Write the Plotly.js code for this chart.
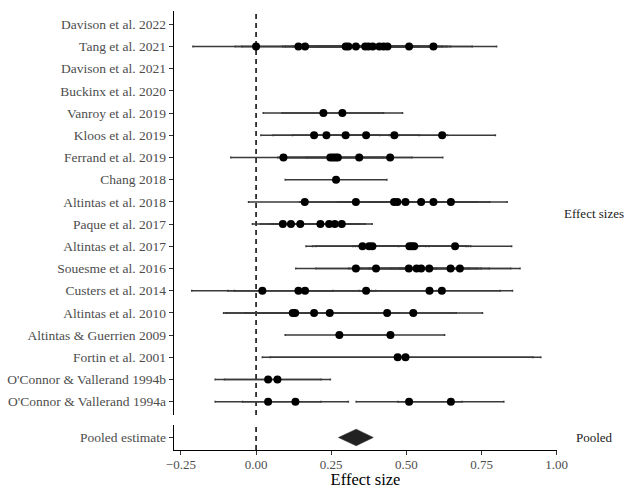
<!DOCTYPE html>
<html>
<head>
<meta charset="utf-8">
<script src="https://cdn.plot.ly/plotly-3.0.1.min.js"></script>
<style>html,body{margin:0;padding:0;background:#fff;}#chart{width:627px;height:489px;}</style>
</head>
<body>
<div id="chart"></div>
<script>
// Studies, top to bottom
const studies = [
  "Davison et al. 2022", "Tang et al. 2021", "Davison et al. 2021", "Buckinx et al. 2020",
  "Vanroy et al. 2019", "Kloos et al. 2019", "Ferrand et al. 2019", "Chang 2018",
  "Altintas et al. 2018", "Paque et al. 2017", "Altintas et al. 2017", "Souesme et al. 2016",
  "Custers et al. 2014", "Altintas et al. 2010", "Altintas & Guerrien 2009", "Fortin et al. 2001",
  "O'Connor & Vallerand 1994b", "O'Connor & Vallerand 1994a"
];
// Effect sizes per study
const davison2022 = [];
const tang2021 = [0.000, 0.141, 0.163, 0.298, 0.307, 0.332, 0.363, 0.374, 0.388, 0.410, 0.424, 0.437, 0.509, 0.590];
const davison2021 = [];
const buckinx2020 = [];
const vanroy2019 = [0.224, 0.287];
const kloos2019 = [0.193, 0.234, 0.298, 0.366, 0.460, 0.619];
const ferrand2019 = [0.091, 0.247, 0.256, 0.264, 0.272, 0.343, 0.446];
const chang2018 = [0.266];
const altintas2018 = [0.162, 0.332, 0.459, 0.470, 0.497, 0.549, 0.590, 0.648];
const paque2017 = [0.089, 0.116, 0.147, 0.214, 0.243, 0.262, 0.285];
const altintas2017 = [0.354, 0.376, 0.387, 0.510, 0.518, 0.526, 0.662];
const souesme2016 = [0.332, 0.399, 0.508, 0.534, 0.549, 0.576, 0.647, 0.678];
const custers2014 = [0.021, 0.141, 0.163, 0.366, 0.577, 0.618];
const altintas2010 = [0.122, 0.130, 0.193, 0.245, 0.436, 0.523];
const altintasGuerrien2009 = [0.277, 0.447];
const fortin2001 = [0.471, 0.497];
const oconnor1994b = [0.040, 0.071];
const oconnor1994a = [0.040, 0.131, 0.509, 0.648];
// 95% CI half-widths per study
const ciHalfWidth = [0, 0.21, 0, 0, 0.20, 0.177, 0.175, 0.169, 0.187, 0.101, 0.188, 0.20, 0.235, 0.23, 0.18, 0.45, 0.176, 0.176];
// Pooled estimate
const pooledLabel = "Pooled estimate";
const pooledEst = 0.333;
const pooledLo = 0.274;
const pooledHi = 0.390;
const xTicks = [-0.25, 0, 0.25, 0.5, 0.75, 1.0];

const effects = [davison2022, tang2021, davison2021, buckinx2020, vanroy2019, kloos2019, ferrand2019,
  chang2018, altintas2018, paque2017, altintas2017, souesme2016, custers2014, altintas2010,
  altintasGuerrien2009, fortin2001, oconnor1994b, oconnor1994a];

const n = studies.length;
const pos = studies.map((s, i) => n - i); // top study highest
const xs = [], ys = [], errs = [];
effects.forEach((arr, i) => {
  arr.forEach(v => { xs.push(v); ys.push(pos[i]); errs.push(ciHalfWidth[i]); });
});

const FONT = "Liberation Serif, Times New Roman, serif";

const traces = [
  {
    type: "scatter", mode: "markers", x: xs, y: ys, xaxis: "x", yaxis: "y",
    marker: {color: "#000", size: 8},
    error_x: {type: "data", array: errs, symmetric: true, color: "#3a3a3a", thickness: 1.5, width: 1},
    hoverinfo: "x+y", showlegend: false
  },
  {
    type: "scatter", mode: "lines", xaxis: "x", yaxis: "y2",
    x: [pooledLo, pooledEst, pooledHi, pooledEst, pooledLo],
    y: [1, 1.4, 1, 0.6, 1],
    fill: "toself", fillcolor: "#222", line: {color: "#222", width: 0.5},
    showlegend: false, hoverinfo: "skip"
  }
];

const layout = {
  width: 627, height: 489,
  margin: {l: 174, r: 70, t: 11, b: 39},
  paper_bgcolor: "#fff", plot_bgcolor: "#fff",
  font: {family: FONT, size: 13.5, color: "#4d4d4d"},
  showlegend: false,
  xaxis: {
    anchor: "y2", range: [-0.273, 1.001], tickvals: xTicks, tickformat: ".2f",
    showgrid: false, zeroline: false, showline: true, linecolor: "#000", linewidth: 1.4,
    ticks: "outside", ticklen: 4, tickcolor: "#333", tickwidth: 1, ticklabelstandoff: -2,
    tickfont: {family: FONT, size: 13, color: "#4d4d4d"},
    title: {text: "Effect size", font: {family: FONT, size: 16.5, color: "#000"}, standoff: 5}
  },
  yaxis: {
    domain: [0.0797, 1], range: [0.4, n + 0.6], tickvals: pos, ticktext: studies,
    showgrid: false, zeroline: false, showline: true, linecolor: "#000", linewidth: 1.4,
    ticks: "outside", ticklen: 4, tickcolor: "#333", tickwidth: 1,
    tickfont: {family: FONT, size: 13.5, color: "#4d4d4d"}, anchor: "x"
  },
  yaxis2: {
    domain: [0, 0.057], range: [0.4, 1.6], tickvals: [1], ticktext: [pooledLabel],
    showgrid: false, zeroline: false, showline: true, linecolor: "#000", linewidth: 1.4,
    ticks: "outside", ticklen: 4, tickcolor: "#333", tickwidth: 1,
    tickfont: {family: FONT, size: 13.5, color: "#4d4d4d"}, anchor: "x"
  },
  shapes: [
    {type: "line", xref: "x", yref: "y domain", x0: 0, x1: 0, y0: 0, y1: 1,
     line: {color: "#000", width: 1.5, dash: "5px,4px"}, layer: "below"},
    {type: "line", xref: "x", yref: "y2 domain", x0: 0, x1: 0, y0: 0, y1: 1,
     line: {color: "#000", width: 1.5, dash: "5px,4px"}, layer: "below"}
  ],
  annotations: [
    {text: "Effect sizes", xref: "paper", yref: "y domain", x: 1.097, y: 0.5, xanchor: "center", yanchor: "middle",
     showarrow: false, font: {family: FONT, size: 13, color: "#1a1a1a"}},
    {text: "Pooled", xref: "paper", yref: "y2 domain", x: 1.099, y: 0.5, xanchor: "center", yanchor: "middle",
     showarrow: false, font: {family: FONT, size: 13, color: "#1a1a1a"}}
  ]
};

Plotly.newPlot("chart", traces, layout, {displayModeBar: false, staticPlot: true});
</script>
</body>
</html>
